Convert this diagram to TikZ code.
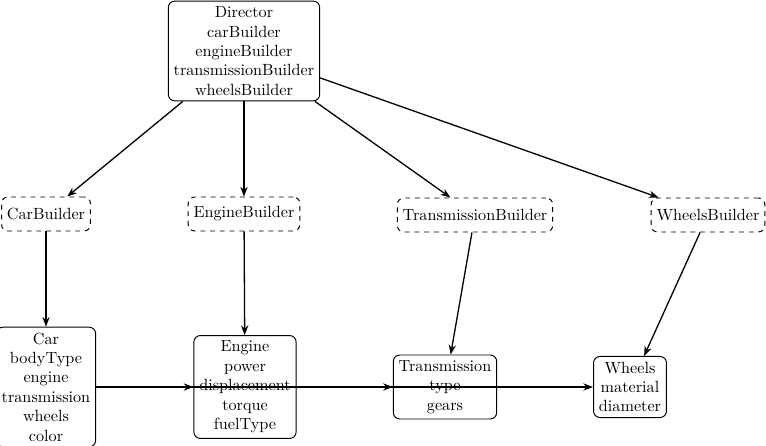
\documentclass[tikz,border=0pt]{standalone}
\usetikzlibrary{arrows.meta, positioning}
\tikzset{
    product/.style={draw, semithick, rounded corners=4pt, align=center},
    builder/.style={draw, semithick, dashed, rounded corners=4pt, minimum height=21pt},
    uses/.style={-{Stealth[length=6pt, width=4.5pt]}, thick}
}
\begin{document}
\begin{tikzpicture}[x=0.0217cm, y=-0.0217cm]
    \useasboundingbox (0,0) rectangle (766,446);
    % top row
    \coordinate (d) at (244, 51);
    % builders
    \coordinate (b1) at (46, 214);
    \coordinate (b2) at (244, 214);
    \coordinate (b3) at (475, 215);
    \coordinate (b4) at (708, 215);
    % products
    \coordinate (p1) at (46, 387);
    \coordinate (p2) at (245, 387);
    \coordinate (p3) at (445, 387);
    \coordinate (p4) at (630, 387);
    \node[product] (director) at (d) {Director\\carBuilder\\engineBuilder\\transmissionBuilder\\wheelsBuilder};
    \node[builder] (carB) at (b1) {CarBuilder};
    \node[builder] (engineB) at (b2) {EngineBuilder};
    \node[builder] (transB) at (b3) {TransmissionBuilder};
    \node[builder] (wheelsB) at (b4) {WheelsBuilder};
    \node[product] (car) at (p1) {Car\\bodyType\\engine\\transmission\\wheels\\color};
    \node[product] (engine) at (p2) {Engine\\power\\displacement\\torque\\fuelType};
    \node[product] (trans) at (p3) {Transmission\\type\\gears};
    \node[product] (wheels) at (p4) {Wheels\\material\\diameter};
    \draw[uses] (director) -- (carB);
    \draw[uses] (director) -- (engineB);
    \draw[uses] (director) -- (transB);
    \draw[uses] (director) -- (wheelsB);
    \draw[uses] (carB) -- (car);
    \draw[uses] (engineB) -- (engine);
    \draw[uses] (transB) -- (trans);
    \draw[uses] (wheelsB) -- (wheels);
    \draw[uses] (car) -- (engine);
    \draw[uses] (car) -- (trans);
    \draw[uses] (car) -- (wheels);
\end{tikzpicture}
\end{document}
